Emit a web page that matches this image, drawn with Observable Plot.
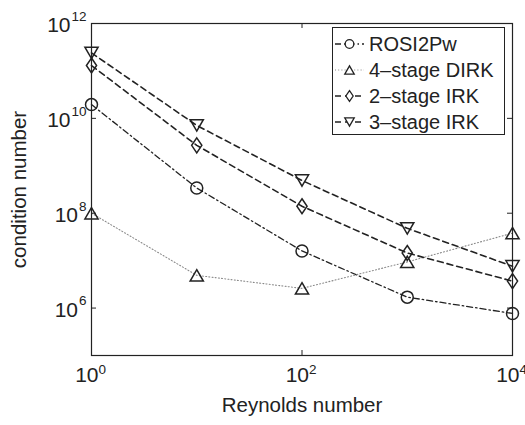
<!DOCTYPE html>
<html><head><meta charset="utf-8">
<script src="https://cdn.jsdelivr.net/npm/d3@7"></script>
<script src="https://cdn.jsdelivr.net/npm/@observablehq/plot@0.6"></script>
<style>
body{margin:0;background:#fff;}
#wrap{position:relative;width:525px;height:425px;font-family:"Liberation Sans",Arial,sans-serif;background:#fff;}
#legend{position:absolute;left:332px;top:27px;width:171px;height:106px;border:1px solid #222;background:#fff;}
.row{position:absolute;left:0;height:26px;display:flex;align-items:center;font-size:20px;color:#222;white-space:nowrap;}
.row svg{display:block;margin-right:4px;}
</style></head><body><div id="wrap"><div id="legend"></div></div><script>
// ---- data ----
const reynolds = [1, 10, 100, 1000, 10000];
const seriesNames = ["ROSI2Pw", "4\u2013stage DIRK", "2\u2013stage IRK", "3\u2013stage IRK"];
const rosi2pw = [1.95e10, 3.4e8, 1.6e7, 1.7e6, 7.7e5];
const dirk4   = [1.0e8, 4.9e6, 2.6e6, 9.4e6, 3.8e7];
const irk2    = [1.3e11, 2.7e9, 1.4e8, 1.45e7, 3.7e6];
const irk3    = [2.4e11, 7.1e9, 4.9e8, 4.8e7, 7.6e6];
const xTicks = [1, 100, 10000];
const xExps = ["0", "2", "4"];
const yTicks = [1e6, 1e8, 1e10, 1e12];
const yExps = ["6", "8", "10", "12"];
const xLabel = "Reynolds number";
const yLabel = "condition number";

// ---- symbols ----
const symDiamond = {draw(ctx, size){const r=Math.sqrt(size/Math.PI);const w=0.85*r,h=1.25*r;ctx.moveTo(0,-h);ctx.lineTo(w,0);ctx.lineTo(0,h);ctx.lineTo(-w,0);ctx.closePath();}};
const symTriUp = {draw(ctx, size){const r=Math.sqrt(size/Math.PI);const w=1.1*r,h=0.95*r;ctx.moveTo(0,-h);ctx.lineTo(w,h);ctx.lineTo(-w,h);ctx.closePath();}};
const symTriDown = {draw(ctx, size){const r=Math.sqrt(size/Math.PI);const w=1.1*r,h=0.95*r;ctx.moveTo(0,h);ctx.lineTo(w,-h);ctx.lineTo(-w,-h);ctx.closePath();}};

const values = [rosi2pw, dirk4, irk2, irk3];
const styles = [
  {symbol: d3.symbolCircle, r: 6, dash: "6,3,1.5,3", stroke: "#222", width: 1.3},
  {symbol: symTriUp, r: 6, dash: "1,2.2", stroke: "#888", width: 1.1},
  {symbol: symDiamond, r: 6, dash: "6,4", stroke: "#222", width: 1.6},
  {symbol: symTriDown, r: 6, dash: "6,4", stroke: "#222", width: 1.6}
];
const rows = seriesNames.flatMap((name, s) => reynolds.map((x, i) => ({series: name, s, x, y: values[s][i]})));

const W = 525, H = 425, mL = 91, mR = 13, mT = 23, mB = 70;
const fw = W - mL - mR, fh = H - mT - mB;
const ink = "#222";

const marks = [];
styles.forEach((st, s) => {
  marks.push(Plot.line(rows.filter(d => d.s === s), {x: "x", y: "y", stroke: st.stroke, strokeWidth: st.width, strokeDasharray: st.dash}));
});
styles.forEach((st, s) => {
  marks.push(Plot.dot(rows.filter(d => d.s === s), {x: "x", y: "y", symbol: st.symbol, r: st.r, stroke: ink, fill: "none", strokeWidth: 1.5}));
});
marks.push(Plot.frame({stroke: ink, strokeWidth: 1.2}));
// inward ticks
marks.push(Plot.tickX(xTicks, {x: d => d, stroke: ink, insetTop: fh - 5}));
marks.push(Plot.tickX(xTicks, {x: d => d, stroke: ink, insetBottom: fh - 5}));
marks.push(Plot.tickY(yTicks, {y: d => d, stroke: ink, insetRight: fw - 5}));
marks.push(Plot.tickY(yTicks, {y: d => d, stroke: ink, insetLeft: fw - 5}));
// x tick labels
marks.push(Plot.text(xTicks, {x: d => d, frameAnchor: "bottom", text: () => "10", textAnchor: "end", dx: 7, dy: 26, fontSize: 21, fill: ink}));
marks.push(Plot.text(xTicks, {x: d => d, frameAnchor: "bottom", text: (d, i) => xExps[i], textAnchor: "start", dx: 7, dy: 18, fontSize: 13.5, fill: ink}));
// y tick labels
yTicks.forEach((t, i) => {
  const ew = yExps[i].length * 7.5;
  marks.push(Plot.text([t], {y: d => d, frameAnchor: "left", text: () => "10", textAnchor: "end", dx: -6 - ew, dy: 2, fontSize: 21, fill: ink}));
  marks.push(Plot.text([t], {y: d => d, frameAnchor: "left", text: () => yExps[i], textAnchor: "end", dx: -5, dy: -7, fontSize: 13.5, fill: ink}));
});
// axis titles
marks.push(Plot.text([xLabel], {text: d => d, frameAnchor: "bottom", textAnchor: "middle", dy: 56, fontSize: 20.5, fill: ink}));
marks.push(Plot.text([yLabel], {text: d => d, frameAnchor: "left", textAnchor: "middle", rotate: -90, dx: -72, fontSize: 20.5, fill: ink}));

const chart = Plot.plot({
  width: W, height: H,
  marginLeft: mL, marginRight: mR, marginTop: mT, marginBottom: mB,
  x: {type: "log", domain: [1, 1e4], axis: null},
  y: {type: "log", domain: [1e5, 1e12], axis: null},
  style: {fontFamily: '"Liberation Sans", Arial, sans-serif', background: "#fff", overflow: "visible"},
  marks
});
const wrap = document.getElementById("wrap");
wrap.insertBefore(chart, wrap.firstChild);

// ---- legend ----
const legend = document.getElementById("legend");
const legendR = 4.3;
seriesNames.forEach((name, s) => {
  const st = styles[s];
  const row = document.createElement("div");
  row.className = "row";
  row.style.top = (3 + s * 26) + "px";
  const path = d3.symbol().type(st.symbol).size(Math.PI * legendR * legendR)();
  row.innerHTML = `<svg width="32" height="26"><line x1="2" x2="31" y1="13" y2="13" stroke="${st.stroke}" stroke-width="${st.width}" stroke-dasharray="${st.dash}"/><path d="${path}" transform="translate(16.5,13)" fill="#fff" stroke="${ink}" stroke-width="1.3"/></svg><span></span>`;
  row.querySelector("span").textContent = name;
  legend.appendChild(row);
});
</script></body></html>
